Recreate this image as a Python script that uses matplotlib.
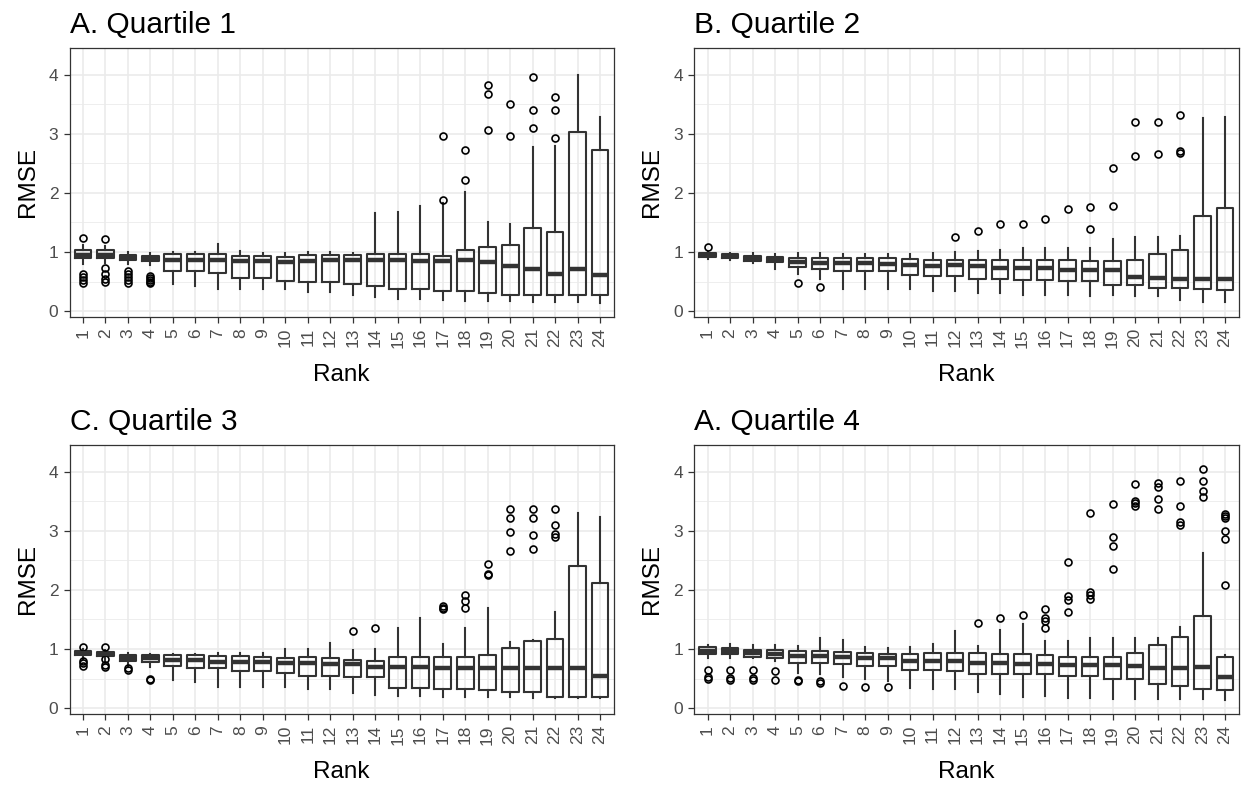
import matplotlib
matplotlib.use("Agg")
import matplotlib.pyplot as plt
from matplotlib.ticker import MultipleLocator

plt.rcParams['font.family'] = ['Liberation Sans', 'DejaVu Sans']

ranks = list(range(1, 25))
titles = ["A. Quartile 1", "B. Quartile 2", "C. Quartile 3", "A. Quartile 4"]

# Quartile 1
a_low = [0.80, 0.82, 0.80, 0.78, 0.45, 0.42, 0.38, 0.38, 0.37, 0.37, 0.33, 0.33,
         0.28, 0.24, 0.20, 0.20, 0.18, 0.17, 0.17, 0.17, 0.16, 0.15, 0.15, 0.13]
a_q1 = [0.90, 0.90, 0.86, 0.85, 0.68, 0.68, 0.64, 0.56, 0.56, 0.51, 0.50, 0.50,
        0.45, 0.42, 0.38, 0.38, 0.34, 0.34, 0.31, 0.28, 0.28, 0.27, 0.28, 0.28]
a_med = [0.95, 0.95, 0.90, 0.89, 0.86, 0.86, 0.86, 0.84, 0.84, 0.83, 0.85, 0.86,
         0.86, 0.86, 0.86, 0.85, 0.85, 0.87, 0.83, 0.77, 0.72, 0.63, 0.72, 0.61]
a_q3 = [1.04, 1.03, 0.95, 0.94, 0.96, 0.96, 0.96, 0.94, 0.93, 0.92, 0.95, 0.95,
        0.95, 0.96, 0.96, 0.97, 0.94, 1.03, 1.09, 1.11, 1.41, 1.33, 3.03, 2.73]
a_high = [1.12, 1.10, 1.00, 0.99, 1.00, 1.00, 1.13, 1.02, 0.99, 0.99, 1.00, 1.00,
          0.99, 1.66, 1.68, 1.78, 1.82, 2.02, 1.51, 1.48, 2.77, 2.80, 4.00, 3.28]
a_out = [[1.24, 0.63, 0.57, 0.52, 0.48], [1.22, 0.73, 0.62, 0.55, 0.50],
         [0.68, 0.62, 0.57, 0.52, 0.48], [0.60, 0.56, 0.52, 0.49, 0.47],
         [], [], [], [], [], [], [], [], [], [], [], [],
         [1.88, 2.96], [2.21, 2.73], [3.07, 3.67, 3.82], [2.96, 3.51],
         [3.09, 3.40, 3.96], [2.92, 3.40, 3.62], [], []]

# Quartile 2
b_low = [0.88, 0.86, 0.82, 0.72, 0.62, 0.55, 0.37, 0.37, 0.37, 0.37, 0.34, 0.34,
         0.31, 0.31, 0.28, 0.28, 0.28, 0.26, 0.27, 0.26, 0.25, 0.19, 0.15, 0.15]
b_q1 = [0.92, 0.90, 0.84, 0.83, 0.75, 0.72, 0.67, 0.67, 0.67, 0.61, 0.60, 0.60,
        0.55, 0.55, 0.53, 0.53, 0.51, 0.51, 0.44, 0.44, 0.39, 0.39, 0.37, 0.36]
b_med = [0.95, 0.93, 0.89, 0.87, 0.83, 0.82, 0.82, 0.81, 0.80, 0.78, 0.76, 0.78,
         0.77, 0.73, 0.73, 0.73, 0.70, 0.70, 0.70, 0.58, 0.56, 0.55, 0.54, 0.54]
b_q3 = [0.98, 0.96, 0.94, 0.91, 0.90, 0.90, 0.90, 0.89, 0.89, 0.88, 0.87, 0.87,
        0.87, 0.87, 0.86, 0.86, 0.86, 0.85, 0.84, 0.86, 0.96, 1.03, 1.61, 1.75]
b_high = [1.00, 0.98, 0.99, 0.96, 0.98, 0.99, 0.97, 0.96, 0.96, 0.96, 0.98, 1.00,
          1.02, 1.04, 1.06, 1.06, 1.07, 1.06, 1.22, 1.26, 1.26, 1.27, 3.27, 3.28]
b_out = [[1.09], [], [], [], [0.47], [0.40], [], [], [], [], [], [1.26],
         [1.36], [1.47], [1.48], [1.56], [1.72], [1.39, 1.76], [1.77, 2.42],
         [2.63, 3.19], [2.65, 3.19], [2.67, 2.70, 3.31], [], []]

# Quartile 3
c_low = [0.83, 0.80, 0.70, 0.70, 0.47, 0.44, 0.36, 0.36, 0.36, 0.35, 0.32, 0.32,
         0.25, 0.22, 0.20, 0.20, 0.19, 0.19, 0.18, 0.18, 0.17, 0.17, 0.17, 0.17]
c_q1 = [0.90, 0.88, 0.80, 0.78, 0.72, 0.67, 0.67, 0.63, 0.63, 0.59, 0.55, 0.54,
        0.53, 0.53, 0.34, 0.34, 0.33, 0.33, 0.31, 0.27, 0.27, 0.19, 0.18, 0.18]
c_med = [0.93, 0.92, 0.85, 0.85, 0.81, 0.81, 0.78, 0.78, 0.78, 0.77, 0.76, 0.74,
         0.74, 0.70, 0.70, 0.70, 0.67, 0.67, 0.67, 0.67, 0.67, 0.67, 0.68, 0.55]
c_q3 = [0.96, 0.95, 0.90, 0.90, 0.90, 0.90, 0.88, 0.88, 0.87, 0.85, 0.86, 0.85,
        0.82, 0.80, 0.86, 0.86, 0.86, 0.86, 0.89, 1.02, 1.14, 1.17, 2.41, 2.12]
c_high = [1.00, 0.99, 0.93, 0.92, 0.92, 0.92, 0.93, 0.93, 0.93, 1.00, 1.00, 1.10,
          0.98, 1.00, 1.35, 1.52, 1.08, 1.35, 1.70, 1.11, 1.16, 1.63, 3.30, 3.24]
c_out = [[1.04, 0.79, 0.76, 0.72], [1.03, 0.83, 0.73, 0.69], [0.67, 0.64],
         [0.50, 0.48], [], [], [], [], [], [], [], [], [1.30], [1.35], [], [],
         [1.67, 1.70, 1.72], [1.69, 1.81, 1.91], [2.25, 2.27, 2.44],
         [2.65, 2.98, 3.21, 3.36], [2.69, 2.93, 3.21, 3.36],
         [2.89, 2.95, 3.10, 3.36], [], []]

# Quartile 4
d_low = [0.84, 0.84, 0.84, 0.80, 0.60, 0.57, 0.53, 0.50, 0.45, 0.34, 0.32, 0.32,
         0.27, 0.23, 0.19, 0.20, 0.17, 0.17, 0.16, 0.16, 0.16, 0.15, 0.15, 0.13]
d_q1 = [0.92, 0.91, 0.86, 0.84, 0.77, 0.77, 0.75, 0.71, 0.71, 0.65, 0.65, 0.63,
        0.58, 0.58, 0.57, 0.57, 0.55, 0.55, 0.50, 0.49, 0.41, 0.37, 0.33, 0.31]
d_med = [0.97, 0.96, 0.93, 0.92, 0.88, 0.88, 0.86, 0.84, 0.84, 0.80, 0.79, 0.79,
         0.76, 0.76, 0.75, 0.75, 0.73, 0.73, 0.73, 0.72, 0.68, 0.68, 0.70, 0.52]
d_q3 = [1.03, 1.02, 0.99, 0.99, 0.96, 0.96, 0.95, 0.94, 0.91, 0.92, 0.93, 0.93,
        0.93, 0.92, 0.92, 0.89, 0.86, 0.86, 0.86, 0.94, 1.06, 1.20, 1.55, 0.86]
d_high = [1.07, 1.08, 1.06, 1.06, 1.05, 1.18, 1.15, 1.03, 1.02, 1.03, 1.09, 1.30,
          1.05, 1.32, 1.42, 1.14, 1.14, 1.19, 1.19, 1.18, 1.18, 1.37, 2.62, 0.89]
d_out = [[0.65, 0.52, 0.49], [0.65, 0.51, 0.48], [0.65, 0.51, 0.48], [0.62, 0.47],
         [0.48, 0.46], [0.45, 0.43], [0.37], [0.36], [0.35], [], [], [],
         [1.44], [1.53], [1.58], [1.36, 1.48, 1.52, 1.68],
         [1.63, 1.83, 1.90, 2.47], [1.84, 1.91, 1.96, 3.30],
         [2.36, 2.74, 2.90, 3.46], [3.41, 3.47, 3.51, 3.79],
         [3.37, 3.54, 3.74, 3.80], [3.10, 3.14, 3.41, 3.84],
         [3.57, 3.68, 3.84, 4.04], [2.09, 2.86, 2.99, 3.21, 3.25, 3.29]]

panels = [
    (a_low, a_q1, a_med, a_q3, a_high, a_out),
    (b_low, b_q1, b_med, b_q3, b_high, b_out),
    (c_low, c_q1, c_med, c_q3, c_high, c_out),
    (d_low, d_q1, d_med, d_q3, d_high, d_out),
]

W, H = 1249, 790
fig = plt.figure(figsize=(W / 100, H / 100), dpi=100)

# axes rectangles in pixels: left, top, right, bottom
rects = [(69.5, 48, 613.5, 317), (694, 48, 1238.5, 317),
         (69.5, 445, 613.5, 714), (694, 445, 1238.5, 714)]

line_col = '#333333'
grid_col = '#EBEBEB'

for (l, t, r, b), title, (lo, q1, med, q3, hi, out) in zip(rects, titles, panels):
    ax = fig.add_axes([l / W, 1 - b / H, (r - l) / W, (b - t) / H])
    stats = []
    for i in range(len(ranks)):
        stats.append(dict(whislo=lo[i], q1=q1[i], med=med[i], q3=q3[i],
                          whishi=hi[i], fliers=out[i]))
    ax.bxp(stats, positions=ranks, widths=0.75, showcaps=False, patch_artist=False,
           boxprops=dict(color=line_col, linewidth=1.5),
           whiskerprops=dict(color=line_col, linewidth=1.5),
           medianprops=dict(color=line_col, linewidth=3.2, solid_capstyle='butt'),
           flierprops=dict(marker='o', markerfacecolor='none', markeredgecolor='black',
                           markersize=5, markeredgewidth=1.2))

    ax.set_xlim(0.4, 24.6)
    ax.set_ylim(-0.1, 4.45)
    ax.set_xticks(ranks)
    ax.set_xticklabels([str(x) for x in ranks], rotation=90)
    ax.yaxis.set_major_locator(MultipleLocator(1))
    ax.yaxis.set_minor_locator(MultipleLocator(0.5))
    ax.set_axisbelow(True)
    ax.grid(which='major', color=grid_col, linewidth=1.2)
    ax.grid(which='minor', axis='y', color=grid_col, linewidth=0.6)
    ax.tick_params(which='major', length=4, width=0.9, color=line_col,
                   labelsize=12.5, labelcolor='#4D4D4D', pad=4)
    ax.tick_params(which='minor', length=0)
    for s in ax.spines.values():
        s.set_color(line_col)
        s.set_linewidth(0.9)

    ax.set_xlabel('Rank', fontsize=17.5, labelpad=12)
    ax.set_ylabel('RMSE', fontsize=17.5, labelpad=7)
    ax.set_title(title, loc='left', fontsize=21.5, pad=11)

fig.savefig('out.png', dpi=100)
